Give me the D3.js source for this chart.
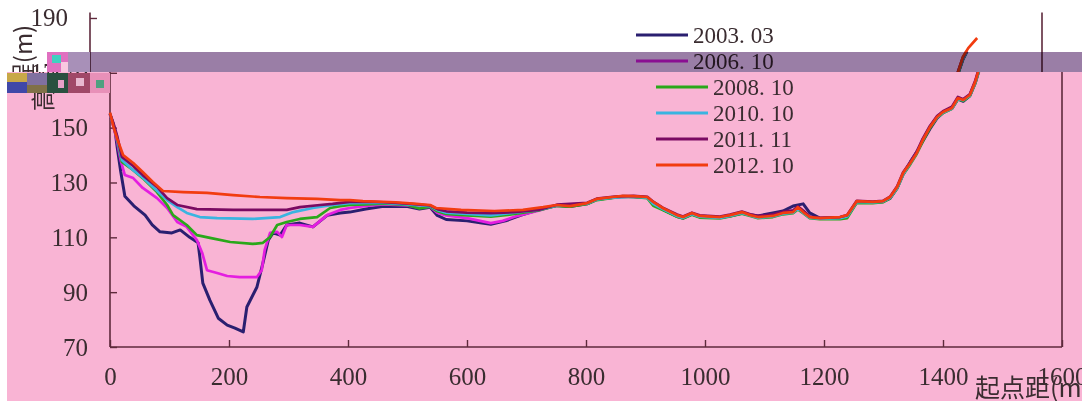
<!DOCTYPE html>
<html><head><meta charset="utf-8">
<script src="https://cdn.jsdelivr.net/npm/d3@7"></script>
<style>body{margin:0;background:#fff;overflow:hidden}</style>
</head><body>
<svg id="c" width="1082" height="401"></svg>
<script>
const seriesNames = ["2003.03","2006.10","2008.10","2010.10","2011.11","2012.10"];
const seriesColors = ["#2a1f70","#e41ee0","#2aa81a","#3ab4e0","#7a0a62","#f23c10"];
const xTicks = [0,200,400,600,800,1000,1200,1400,1600];
const yTicks = [70,90,110,130,150,170,190];

const s2003 = [[0,155],[3,153],[9,148],[12,143],[18,134],[25,125],[40,121.5],[59,118.1],[71,114.5],[84,112],[104,111.6],[118,112.7],[134,110],[148,108],[151,102.8],[156,93.3],[168,87],[182,80.5],[197,78],[210,76.9],[224,75.5],[230,84.6],[247,91.9],[257,100.6],[266,109],[274,111.6],[286,110.8],[297,114.5],[319,115.2],[341,113.8],[365,118],[387,118.9],[403,119.2],[430,120.3],[460,121.3],[500,121.2],[520,120.3],[538,121],[550,118],[565,116.5],[600,116],[625,115.2],[640,114.8],[665,116],[690,118],[720,120],[751,121.6],[773,121.2],[802,122.2],[818,123.8],[845,124.5],[862,125],[880,124.8],[903,124.5],[913,122.5],[929,120.2],[953,117.6],[963,117],[978,118.5],[991,117.5],[1025,117.2],[1042,117.8],[1062,118.8],[1076,118.2],[1089,117.8],[1114,118.9],[1131,119.6],[1148,121.4],[1165,122.2],[1176,118.9],[1193,117],[1227,117.2],[1239,117.8],[1255,122.8],[1282,122.7],[1299,123],[1311,124.2],[1323,128],[1333,133],[1345,137.5],[1356,141.2],[1366,145],[1378,149.5],[1390,153.5],[1400,155.5],[1415,157],[1425,160.5],[1434,159.6],[1445,161.6],[1454,166.2],[1459,169.8],[1467,174.8],[1474,177.8]];

const s2006 = [[0,155],[6,150.5],[12,145],[18,138],[25,132.7],[39,131.6],[55,128],[79,124.3],[96,120.7],[113,115.6],[129,113.8],[146,109],[155,104.3],[163,98],[180,97],[197,95.9],[218,95.5],[247,95.5],[255,98],[260,105.4],[269,111.6],[281,112],[289,110.1],[297,114.5],[319,114.5],[341,113.8],[365,118.1],[387,120],[403,120.7],[430,121.5],[460,122],[500,121.6],[520,120.8],[538,121.2],[550,119],[565,118],[600,117],[640,115.2],[660,116],[680,117.5],[720,119.7],[751,121.7],[802,122.4],[818,123.9],[845,124.6],[880,124.9],[903,124.6],[913,122.7],[929,120.5],[953,118],[963,117.3],[978,118.8],[991,117.7],[1025,117.3],[1042,118],[1062,119.1],[1076,118.1],[1089,117.5],[1114,118],[1131,119],[1148,119.5],[1156,121],[1165,119.5],[1176,117.3],[1193,116.9],[1227,117.2],[1239,117.9],[1255,123],[1282,122.8],[1299,123.1],[1311,124.5],[1323,128.2],[1333,133.2],[1345,137.2],[1356,141],[1366,145.7],[1378,150.3],[1390,154],[1400,155.8],[1415,157.3],[1425,160.9],[1434,160.2],[1445,162],[1454,166.7],[1459,170.4],[1467,175.4],[1473,177.6]];

const s2008 = [[0,155],[6,151],[12,146],[20,137.5],[39,134.5],[55,131.6],[79,126.5],[96,121.8],[106,118.1],[129,114.5],[146,110.8],[168,109.8],[202,108.3],[240,107.6],[257,108],[269,110.1],[281,114.5],[297,115.6],[319,116.7],[348,117.4],[370,120.7],[387,121.4],[403,121.8],[430,122],[460,122.3],[500,121.8],[520,120.5],[538,121.2],[550,119.5],[565,118.5],[600,118],[640,117.5],[680,118.5],[720,119.8],[751,121.5],[773,121.2],[802,122.2],[818,123.6],[845,124.4],[862,124.8],[880,124.7],[903,124.3],[913,121.5],[929,120],[953,117.5],[963,116.9],[978,118.2],[991,117.2],[1025,116.9],[1042,117.6],[1062,118.6],[1076,117.8],[1089,117],[1114,117.4],[1131,118.4],[1148,118.8],[1156,120.2],[1165,118.8],[1176,117],[1193,116.6],[1227,116.6],[1239,117],[1255,122.6],[1282,122.5],[1299,122.8],[1311,124.2],[1323,127.8],[1333,132.8],[1345,136.6],[1356,140.5],[1366,145],[1378,149.8],[1390,153.6],[1400,155.3],[1415,156.9],[1425,160.3],[1434,159.8],[1445,161.5],[1454,166],[1459,169.6],[1467,174.8],[1473,177.4]];

const s2010 = [[0,155],[6,151],[12,146.5],[20,138.2],[39,134.5],[55,131.8],[79,127],[96,123.6],[113,121],[129,118.9],[151,117.4],[180,117],[240,116.7],[286,117.4],[308,119.2],[341,120.7],[374,121.8],[403,122.5],[430,122.6],[460,122.6],[500,122],[538,121.4],[550,120],[565,119],[600,118.5],[640,118],[680,119],[720,120],[751,121.6],[802,122.3],[818,123.8],[845,124.5],[880,124.8],[903,124.5],[913,122.2],[929,120.3],[953,117.8],[963,117.1],[978,118.5],[991,117.5],[1025,117.1],[1042,117.8],[1062,118.9],[1076,118],[1089,117.2],[1114,117.6],[1131,118.6],[1148,119],[1156,120.6],[1165,119],[1176,117.2],[1193,116.8],[1227,117],[1239,117.6],[1255,122.9],[1282,122.7],[1299,123],[1311,124.4],[1323,128],[1333,133],[1345,137],[1356,140.9],[1366,145.6],[1378,150.4],[1390,153.7],[1400,155.5],[1415,157],[1425,160.5],[1434,160],[1445,161.7],[1454,166.3],[1459,170],[1467,175],[1473,177.5]];

const s2011 = [[0,155],[6,151.5],[12,147],[20,139.3],[39,136],[55,132.7],[79,128.4],[96,124.3],[113,121.8],[146,120.3],[207,120],[297,120],[319,121],[353,121.8],[374,122.2],[403,122.9],[430,123],[460,122.8],[500,122.3],[538,121.6],[550,120.3],[565,119.5],[600,119],[640,118.8],[680,119.2],[720,120],[751,121.9],[802,122.6],[818,124.1],[845,124.8],[880,125.1],[903,124.8],[913,123],[929,120.8],[953,118.3],[963,117.6],[978,119],[991,118],[1025,117.6],[1042,118.3],[1062,119.4],[1076,118.4],[1089,117.8],[1114,118.4],[1131,119.3],[1148,119.8],[1156,121.3],[1165,119.8],[1176,117.6],[1193,117.1],[1227,117.4],[1239,118.1],[1255,123.3],[1282,123],[1299,123.3],[1311,124.8],[1323,128.6],[1333,133.7],[1345,137.4],[1356,141.3],[1366,146],[1378,150.6],[1390,154.2],[1400,156],[1415,157.6],[1425,161.2],[1434,160.4],[1445,162.2],[1454,167],[1459,170.6],[1467,175.6],[1473,177.8]];

const s2012 = [[0,155.5],[6,150.2],[12,146],[22,140],[39,137.1],[55,133.8],[72,130.2],[89,126.9],[123,126.5],[163,126.2],[207,125.4],[252,124.7],[297,124.3],[348,124],[387,123.6],[403,123.6],[425,123.2],[480,122.8],[510,122.3],[538,121.8],[548,120.7],[590,120],[646,119.6],[694,120],[728,121],[751,121.8],[773,121.4],[802,122.5],[818,124],[845,124.7],[862,125.1],[880,125],[903,124.7],[913,122.9],[929,120.7],[953,118.1],[963,117.4],[978,118.9],[991,117.8],[1025,117.4],[1042,118.1],[1062,119.2],[1076,118.1],[1089,117.4],[1114,117.8],[1131,118.9],[1148,119.2],[1156,121],[1165,119.2],[1176,117.4],[1193,117],[1227,117.4],[1239,118.1],[1255,123.2],[1282,122.9],[1299,123.2],[1311,124.7],[1323,128.4],[1333,133.5],[1345,137.1],[1356,140.8],[1366,145.5],[1378,150.2],[1390,153.9],[1400,155.7],[1415,157.2],[1425,160.8],[1434,160.1],[1445,161.9],[1454,166.6],[1459,170.3],[1467,175.8],[1476,179],[1491,182.7]];

const seriesData = [s2003, s2006, s2008, s2010, s2011, s2012];

const svg = d3.select("#c");
const W = 1082, H = 401;
const x = d3.scaleLinear().domain([0,1600]).range([110,1062]);
const y = d3.scaleLinear().domain([70,192]).range([347,12.5]);
const axisColor = "#5e2a3c", textColor = "#3a2c30";
const numFont = "'Liberation Serif', 'DejaVu Serif', serif";
const cjkFont = "'Noto Sans CJK SC', sans-serif";

const defs = svg.append("defs");
defs.append("clipPath").attr("id","clipLow").append("rect").attr("x",0).attr("y",72).attr("width",W).attr("height",H-72);
defs.append("clipPath").attr("id","clipTop").append("rect").attr("x",0).attr("y",0).attr("width",W).attr("height",72);

// backgrounds
svg.append("rect").attr("x",0).attr("y",0).attr("width",W).attr("height",H).attr("fill","#ffffff");
svg.append("rect").attr("x",7).attr("y",72).attr("width",W-7).attr("height",H-72).attr("fill","#f9b4d4");

function drawChart(g){
  const xa = d3.axisBottom(x).tickValues(xTicks).tickSize(-7).tickPadding(20).tickFormat(d3.format("d"));
  const gx = g.append("g").attr("transform",`translate(0,${y(70)})`).call(xa);
  gx.select(".domain").attr("stroke",axisColor).attr("stroke-width",1.6).attr("d",`M${x(0)},0H${x(1600)}`);
  gx.selectAll(".tick line").attr("stroke",axisColor).attr("stroke-width",1.4);
  gx.selectAll(".tick text").attr("fill",textColor).style("font-family",numFont).style("font-size","25px").attr("dy","0.7em").attr("y",20);
  const ya = d3.axisLeft(y).tickValues(yTicks).tickSize(-7).tickPadding(22).tickFormat(d3.format("d"));
  const gy = g.append("g").attr("transform",`translate(${x(0)},0)`).call(ya);
  gy.select(".domain").attr("stroke",axisColor).attr("stroke-width",1.6).attr("d",`M0,${y(70)}V${y(192)}`);
  gy.selectAll(".tick line").attr("stroke",axisColor).attr("stroke-width",1.4);
  gy.selectAll(".tick text").attr("fill",textColor).style("font-family",numFont).style("font-size","25px");
  g.append("line").attr("x1",x(1600)).attr("x2",x(1600)).attr("y1",y(70)).attr("y2",y(192)).attr("stroke",axisColor).attr("stroke-width",1.6);
  const line = d3.line().x(d=>x(d[0])).y(d=>y(d[1]));
  seriesData.forEach((s,i)=>{
    g.append("path").datum(s).attr("d",line).attr("fill","none").attr("stroke",seriesColors[i])
      .attr("stroke-width",i===0?3:2.7).attr("stroke-linejoin","round");
  });
  const lg = g.append("g");
  seriesNames.forEach((n,i)=>{
    const yy = 35 + i*26;
    lg.append("line").attr("x1",656).attr("x2",708).attr("y1",yy).attr("y2",yy).attr("stroke",seriesColors[i]).attr("stroke-width",3);
    const t = lg.append("text").attr("x",713).attr("y",yy+8).attr("fill",textColor).style("font-family",numFont).style("font-size","23px");
    const parts = n.split(".");
    t.append("tspan").text(parts[0]+".");
    t.append("tspan").attr("dx",6).text(parts[1]);
  });
  g.append("text").attr("transform","translate(52,68) rotate(-90)").attr("text-anchor","middle").attr("fill",textColor)
    .style("font-family",cjkFont).style("font-size","24px").text("高程(m)");
  g.append("text").attr("x",975).attr("y",397).attr("fill",textColor).style("font-family",cjkFont).style("font-size","25px").text("起点距(m)");
}

drawChart(svg.append("g").attr("clip-path","url(#clipLow)"));
drawChart(svg.append("g").attr("clip-path","url(#clipTop)").append("g").attr("transform","translate(-20,0)"));

// purple band (starts after the white patch at the left)
svg.append("rect").attr("x",47).attr("y",52).attr("width",W-47).attr("height",20).attr("fill","#9a7ea6").style("mix-blend-mode","multiply");

// glitch blocks
const glitch = [
  [47,52,21,20,"#e070c0"],[52,55,9,8,"#40d0c0"],[61,62,7,10,"#f8c8e0"],[68,52,22,20,"#a890b8"],
  [7,73,20,9,"#c8a848"],[7,82,20,11,"#4048a8"],[27,73,20,12,"#8070a0"],[27,85,20,8,"#807048"],
  [47,73,21,20,"#2a5040"],[58,80,6,8,"#e8a0c8"],[68,73,22,20,"#a04868"],[76,78,8,8,"#e8b8d0"],
  [90,73,20,20,"#e890b8"],[96,80,8,8,"#50a080"]
];
svg.append("g").selectAll("rect").data(glitch).join("rect")
  .attr("x",d=>d[0]).attr("y",d=>d[1]).attr("width",d=>d[2]).attr("height",d=>d[3]).attr("fill",d=>d[4]);
</script>
</body></html>
